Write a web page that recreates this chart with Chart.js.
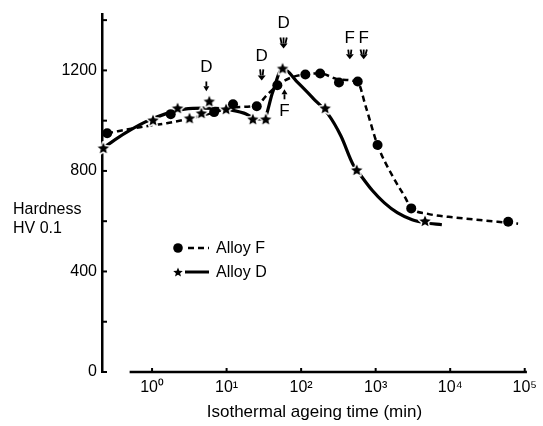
<!DOCTYPE html>
<html>
<head>
<meta charset="utf-8">
<script src="https://cdn.jsdelivr.net/npm/chart.js@4.4.0/dist/chart.umd.min.js"></script>
<style>
  html, body { margin: 0; padding: 0; background: #fff; }
</style>
</head>
<body>
<canvas id="myChart" width="543" height="426"></canvas>
<script>
// measured points (time in min, hardness HV 0.1)
const alloyFTime = [0.25, 1.78, 6.8, 12.2, 25.4, 48, 114, 180, 322, 575, 1060, 3000, 60000];
const alloyFHard = [950, 1026, 1034, 1065, 1057, 1141, 1184, 1188, 1152, 1156, 903, 651, 598];
const alloyDTime = [0.222, 1.03, 2.2, 3.18, 4.59, 5.86, 9.84, 22.5, 33.5, 56.4, 210, 557, 4600];
const alloyDHard = [891, 1002, 1050, 1010, 1030, 1077, 1046, 1006, 1006, 1208, 1050, 804, 601];

// hand drawn trend curves
const curveFTime = [0.249, 0.689, 1.57, 3.38, 6.42, 12.2, 25.4, 34.5, 48.3, 74.1, 114, 180, 322, 575, 735, 1060, 1680, 2420, 3000, 4890, 12200, 30600, 60000, 81500];
const curveFHard = [950, 974, 990, 1010, 1030, 1053, 1061, 1101, 1141, 1172, 1184, 1188, 1164, 1152, 1057, 903, 780, 701, 653, 630, 614, 602, 594, 590];
const curveDTime = [0.229, 0.435, 0.802, 1.48, 2.73, 5.03, 9.27, 17.1, 23.9, 31.5, 41.5, 56.4, 91.9, 145, 230, 342, 493, 611, 910, 1310, 1950, 3090, 4600, 7730];
const curveDHard = [895, 950, 994, 1026, 1046, 1050, 1046, 1030, 1010, 1006, 1113, 1208, 1149, 1089, 1026, 939, 828, 788, 721, 673, 634, 606, 594, 586];

// axes
const xTickValues = [1, 10, 100, 1000, 10000, 100000];
const xTickLabels = ['10\u2070', '10\u00b9', '10\u00b2', '10\u00b3', '10\u2074', '10\u2075'];
const yTickValues = [0, 200, 400, 600, 800, 1000, 1200, 1400];
const yLabelValues = [0, 400, 800, 1200];

// D / F markers above the curves: label, time, text hardness, arrow from, arrow to, arrow kind
const noteLabels = ['D', 'D', 'D', 'F', 'F', 'F'];
const noteTime = [5.35, 29.6, 58.1, 59.8, 450, 691];
const noteHard = [1212, 1255, 1386, 1038, 1327, 1327];
const noteArrowFrom = [1156, 1204, 1331, 1085, 1283, 1283];
const noteArrowTo = [1117, 1160, 1287, 1125, 1244, 1244];
const noteArrowKind = [1, 2, 3, 1, 2, 3];

const FONT = '"Liberation Sans", Arial, sans-serif';

function zip(xs, ys) {
	return xs.map((x, i) => ({ x: x, y: ys[i] }));
}

function makeStar(r) {
	const size = Math.ceil(r * 2 + 6);
	const c = document.createElement('canvas');
	c.width = size;
	c.height = size;
	const g = c.getContext('2d');
	g.translate(size / 2, size / 2 + 0.5);
	g.beginPath();
	for (let i = 0; i < 10; i++) {
		const rad = i % 2 ? r * 0.45 : r;
		const a = -Math.PI / 2 + i * Math.PI / 5;
		g.lineTo(rad * Math.cos(a), rad * Math.sin(a));
	}
	g.closePath();
	g.lineJoin = 'round';
	g.lineWidth = 3;
	g.strokeStyle = '#fff';
	g.stroke();
	g.fillStyle = '#000';
	g.fill();
	return c;
}

const starImg = makeStar(6);
const starSmall = makeStar(5);

function drawArrow(ctx, x, y1, y2, kind) {
	const dir = y2 > y1 ? 1 : -1;
	const head = 5;
	ctx.save();
	ctx.strokeStyle = '#000';
	ctx.fillStyle = '#000';
	ctx.lineWidth = 1.8;
	const offs = kind === 1 ? [0] : kind === 2 ? [-1.6, 1.6] : [-3.2, 0, 3.2];
	offs.forEach(o => {
		ctx.beginPath();
		ctx.moveTo(x + o, y1);
		ctx.lineTo(x + o * 0.6, y2 - dir * head);
		ctx.stroke();
	});
	const hw = kind === 1 ? 3 : 4;
	ctx.beginPath();
	ctx.moveTo(x - hw, y2 - dir * head);
	ctx.lineTo(x + hw, y2 - dir * head);
	ctx.lineTo(x, y2);
	ctx.closePath();
	ctx.fill();
	ctx.restore();
}

const decorations = {
	id: 'decorations',
	afterDraw(chart) {
		const ctx = chart.ctx;
		const ca = chart.chartArea;
		const xs = chart.scales.x;
		const ys = chart.scales.y;
		ctx.save();
		ctx.strokeStyle = '#000';

		// x axis line, starts a bit right of the y axis
		ctx.lineWidth = 2.5;
		ctx.beginPath();
		ctx.moveTo(xs.getPixelForValue(0.5), ca.bottom);
		ctx.lineTo(ca.right, ca.bottom);
		ctx.stroke();

		// inward ticks
		ctx.lineWidth = 2;
		yTickValues.forEach(v => {
			const y = ys.getPixelForValue(v);
			ctx.beginPath();
			ctx.moveTo(ca.left, y);
			ctx.lineTo(ca.left + 5, y);
			ctx.stroke();
		});
		xTickValues.forEach(v => {
			const x = xs.getPixelForValue(v);
			ctx.beginPath();
			ctx.moveTo(x, ca.bottom);
			ctx.lineTo(x, ca.bottom - 4);
			ctx.stroke();
		});

		// y title, written horizontally
		ctx.fillStyle = '#000';
		ctx.font = '16px ' + FONT;
		ctx.textAlign = 'left';
		ctx.textBaseline = 'middle';
		ctx.fillText('Hardness', ca.left - 89, 210);
		ctx.fillText('HV 0.1', ca.left - 89, 229);

		// legend
		const lx = ca.left + 76;
		ctx.beginPath();
		ctx.arc(lx, 248, 4.8, 0, Math.PI * 2);
		ctx.fill();
		ctx.lineWidth = 2.5;
		ctx.setLineDash([6, 4]);
		ctx.beginPath();
		ctx.moveTo(lx + 10, 248);
		ctx.lineTo(lx + 31, 248);
		ctx.stroke();
		ctx.setLineDash([]);
		ctx.drawImage(starSmall, lx - starSmall.width / 2, 272 - starSmall.height / 2);
		ctx.lineWidth = 3;
		ctx.beginPath();
		ctx.moveTo(lx + 7, 272);
		ctx.lineTo(lx + 31, 272);
		ctx.stroke();
		ctx.fillText('Alloy F', lx + 38, 249);
		ctx.fillText('Alloy D', lx + 38, 273);

		// D / F notes with arrows
		ctx.font = '17px ' + FONT;
		ctx.textAlign = 'center';
		noteLabels.forEach((t, i) => {
			const x = xs.getPixelForValue(noteTime[i]);
			ctx.fillText(t, x, ys.getPixelForValue(noteHard[i]));
			drawArrow(ctx, x, ys.getPixelForValue(noteArrowFrom[i]), ys.getPixelForValue(noteArrowTo[i]), noteArrowKind[i]);
		});
		ctx.restore();
	}
};

const data = {
	datasets: [
		{
			label: 'Alloy F',
			data: zip(alloyFTime, alloyFHard),
			showLine: false,
			pointStyle: 'circle',
			pointRadius: 5,
			pointHoverRadius: 5,
			backgroundColor: '#000',
			borderColor: '#000',
			borderWidth: 0,
			order: 0,
			clip: 10
		},
		{
			label: 'Alloy D',
			data: zip(alloyDTime, alloyDHard),
			showLine: false,
			pointStyle: starImg,
			order: 0,
			clip: 10
		},
		{
			label: 'curve F',
			data: zip(curveFTime, curveFHard),
			showLine: true,
			borderColor: '#000',
			borderWidth: 2.5,
			borderDash: [6, 4],
			pointRadius: 0,
			cubicInterpolationMode: 'monotone',
			order: 2
		},
		{
			label: 'curve D',
			data: zip(curveDTime, curveDHard),
			showLine: true,
			borderColor: '#000',
			borderWidth: 3.2,
			pointRadius: 0,
			cubicInterpolationMode: 'monotone',
			order: 1
		}
	]
};

const config = {
	type: 'scatter',
	data,
	options: {
		responsive: false,
		animation: false,
		devicePixelRatio: 1,
		layout: { padding: { top: 13, right: 12, left: 0, bottom: 0 } },
		plugins: {
			legend: { display: false },
			tooltip: { enabled: false }
		},
		scales: {
			x: {
				type: 'logarithmic',
				min: 0.213,
				max: 107000,
				grid: { display: false, drawTicks: false },
				border: { display: false },
				afterBuildTicks: s => { s.ticks = xTickValues.map(v => ({ value: v })); },
				afterFit: s => { s.height = 54; },
				ticks: {
					color: '#000',
					font: { family: FONT, size: 16 },
					padding: 6,
					maxRotation: 0,
					autoSkip: false,
					callback: v => xTickLabels[xTickValues.indexOf(v)]
				},
				title: {
					display: true,
					text: 'Isothermal ageing time (min)',
					color: '#000',
					font: { family: FONT, size: 17 },
					padding: { top: 0, bottom: 3 }
				}
			},
			y: {
				min: 0,
				max: 1422,
				grid: { display: false, drawTicks: false },
				border: { display: true, color: '#000', width: 2.5 },
				afterBuildTicks: s => { s.ticks = yTickValues.map(v => ({ value: v })); },
				afterFit: s => { s.width = 102; },
				ticks: {
					color: '#000',
					font: { family: FONT, size: 16 },
					padding: 5,
					autoSkip: false,
					callback: v => yLabelValues.includes(v) ? String(v) : ''
				}
			}
		}
	},
	plugins: [decorations]
};

const myChart = new Chart(document.getElementById('myChart'), config);
</script>
</body>
</html>
